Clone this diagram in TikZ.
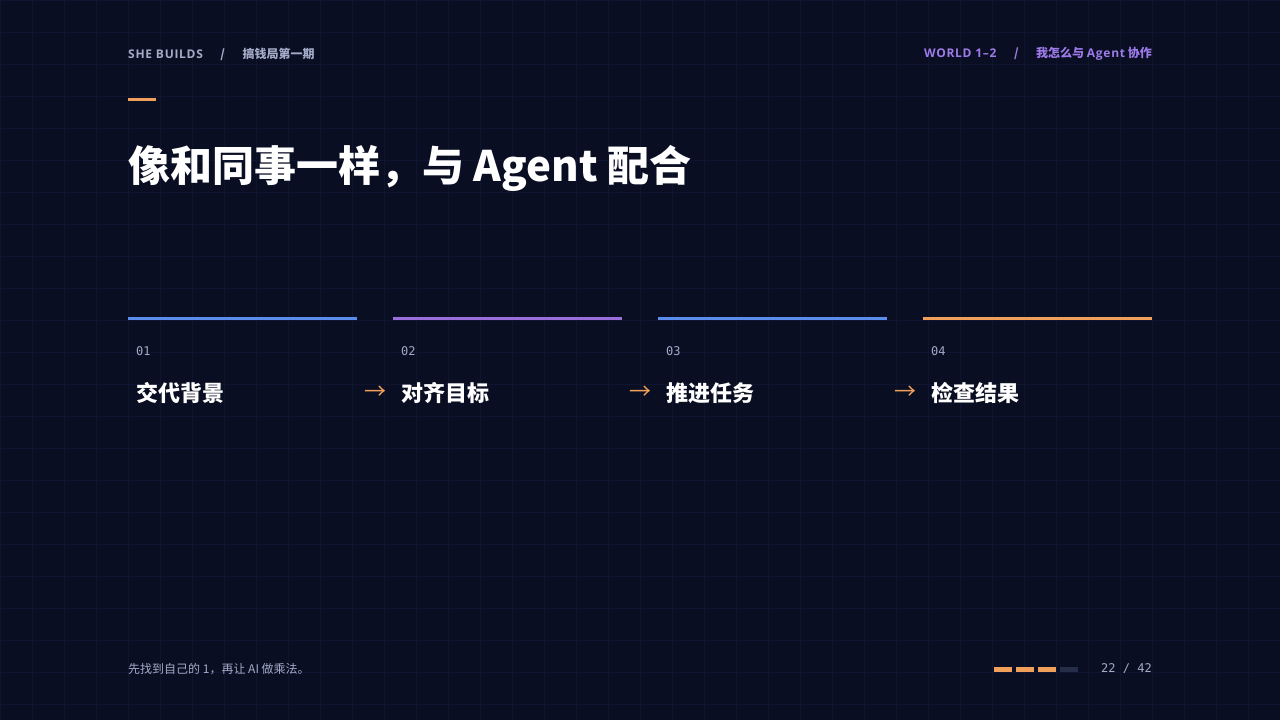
\documentclass[tikz,border=0pt]{standalone}
\usepackage{fontspec}
\setmainfont{Noto Sans CJK SC}
\newfontfamily\latinbold{Open Sans}[LetterSpace=6]
\setmonofont{DejaVu Sans Mono}
\usetikzlibrary{positioning}
\definecolor{bgcol}{HTML}{0A0E22}
\definecolor{gridcol}{HTML}{0F1430}
\definecolor{mutedcol}{HTML}{A3ABC8}
\definecolor{violetcol}{HTML}{9D7BEA}
\definecolor{bluecol}{HTML}{5B8DEF}
\definecolor{purplecol}{HTML}{9A6FDB}
\definecolor{orangecol}{HTML}{F0A05A}
\definecolor{trackcol}{HTML}{262D48}
\tikzset{
  head/.style={inner sep=0pt,font=\fontsize{12}{12}\selectfont\bfseries},
  step num/.style={inner sep=0pt,anchor=west,text=mutedcol,font=\ttfamily\fontsize{12}{12}\selectfont},
  step label/.style={inner sep=0pt,anchor=west,text=white,font=\fontsize{22}{22}\selectfont\bfseries},
  step arrow/.style={inner sep=0pt,text=orangecol,font=\fontsize{22}{22}\selectfont},
  step bar/.style={line width=3pt},
  page dash/.style={fill=orangecol},
}
\begin{document}
\begin{tikzpicture}[x=1pt,y=-1pt]
  \fill[bgcol] (0,0) rectangle (1280,720);
  \useasboundingbox (0,0) rectangle (1280,720);
  %grid
  \foreach \gx in {0,32,...,1280} \draw[gridcol,line width=0.8pt] (\gx,0) -- (\gx,720);
  \foreach \gy in {0,32,...,720} \draw[gridcol,line width=0.8pt] (0,\gy) -- (1280,\gy);

  %Header
  \node[head,anchor=west,text=mutedcol] (brand) at (128,54) {{\latinbold SHE BUILDS}\quad\ \ /\quad\ \ 搞钱局第一期};
  \node[head,anchor=east,text=violetcol] (world) at (1152,54) {{\latinbold WORLD 1–2}\quad\ \ /\quad\ \ 我怎么与 {\latinbold Agent} 协作};
  \fill[orangecol] (128,98) rectangle (156,101);
  \node[inner sep=0pt,anchor=west,text=white,font=\fontsize{42}{42}\selectfont\bfseries] (title) at (128,168) {像和同事一样，与 Agent 配合};

  %Steps
  \foreach \i/\sx/\col/\num/\txt in {1/128/bluecol/01/交代背景,2/393/purplecol/02/对齐目标,3/658/bluecol/03/推进任务,4/923/orangecol/04/检查结果}{
    \draw[step bar,\col] (\sx,318) -- (\sx+229,318);
    \node[step num] (num\i) at (\sx+8,351) {\num};
    \node[step label] (lab\i) at (\sx+8,393) {\txt};
  }
  \node[step arrow] (arr1) at (375,393) {→};
  \node[step arrow] (arr2) at (640,393) {→};
  \node[step arrow] (arr3) at (905,393) {→};

  %Footer
  \node[inner sep=0pt,anchor=west,text=mutedcol,font=\fontsize{12}{12}\selectfont] (motto) at (128,669) {先找到自己的 1，再让 AI 做乘法。};
  \fill[page dash] (994,667) rectangle (1012,672);
  \fill[page dash] (1016,667) rectangle (1034,672);
  \fill[page dash] (1038,667) rectangle (1056,672);
  \fill[trackcol] (1060,667) rectangle (1078,672);
  \node[inner sep=0pt,anchor=east,text=mutedcol,font=\ttfamily\fontsize{12}{12}\selectfont] (page) at (1152,669) {22 / 42};
\end{tikzpicture}
\end{document}
